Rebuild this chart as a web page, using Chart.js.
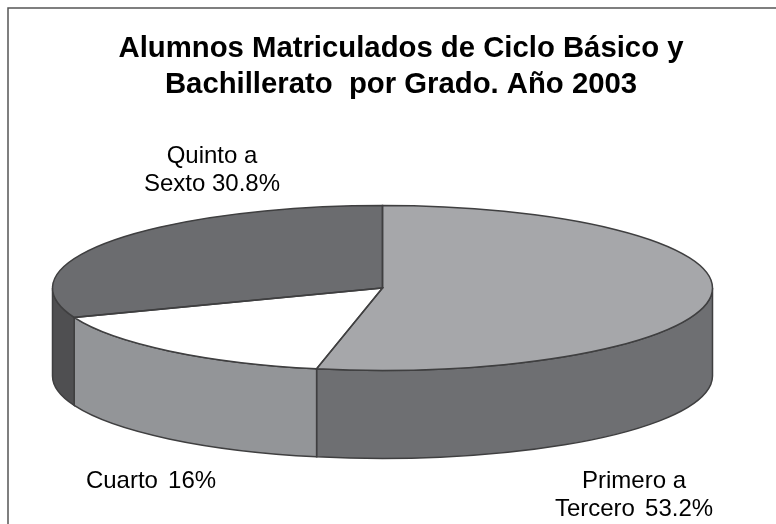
<!DOCTYPE html>
<html>
<head>
<meta charset="utf-8">
<style>
  html, body { margin: 0; padding: 0; background: #fff; }
  canvas { display: block; }
</style>
<script src="https://cdn.jsdelivr.net/npm/chart.js@4/dist/chart.umd.min.js"></script>
</head>
<body>
<canvas id="chart" width="776" height="524"></canvas>
<script>
const titleLines = ['Alumnos Matriculados de Ciclo Básico y', 'Bachillerato  por Grado. Año 2003'];
const categories = ['Primero a Tercero', 'Cuarto', 'Quinto a Sexto'];
const values = [53.2, 16, 30.8];
const labelLines = [['Primero a', 'Tercero'], ['Cuarto'], ['Quinto a', 'Sexto']];

const topColors = ['#a6a7aa', '#ffffff', '#6b6c6f'];
const wallColors = ['#6e6f72', '#939598', '#4f4f51'];
const edgeColor = '#3f3f40';

// where the flattened pie ends up on the page
const disc = { cx: 382.5, cy: 288, rx: 330, ry: 82.5, depth: 88 };
// centre x and first baseline of each slice label
const labelAnchors = [[634, 488], [151, 488], [212, 163]];
// the source sets two of the labels with a wider word gap
const labelGaps = ['3.5px', '3.5px', '0px'];

function edgePath(ctx, from, to) {
  ctx.beginPath();
  ctx.moveTo(disc.cx, disc.cy);
  ctx.ellipse(disc.cx, disc.cy, disc.rx, disc.ry, 0, from, to);
  ctx.closePath();
}

const tiltedPie = {
  id: 'tiltedPie',
  beforeDraw(chart) {
    // page frame, open on the right and at the bottom
    const ctx = chart.ctx;
    ctx.save();
    ctx.strokeStyle = '#555';
    ctx.lineWidth = 1.5;
    ctx.beginPath();
    ctx.moveTo(8, chart.height);
    ctx.lineTo(8, 8);
    ctx.lineTo(chart.width, 8);
    ctx.stroke();
    ctx.restore();
  },
  beforeDatasetsDraw(chart) {
    const ctx = chart.ctx;
    const arcs = chart.getDatasetMeta(0).data;

    // outer wall, only the front half of the rim can be seen
    ctx.save();
    ctx.strokeStyle = edgeColor;
    ctx.lineWidth = 1.5;
    arcs.forEach((arc, i) => {
      const from = Math.max(arc.startAngle, 0);
      const to = Math.min(arc.endAngle, Math.PI);
      if (to <= from) return;
      ctx.beginPath();
      ctx.ellipse(disc.cx, disc.cy, disc.rx, disc.ry, 0, from, to);
      ctx.ellipse(disc.cx, disc.cy + disc.depth, disc.rx, disc.ry, 0, to, from, true);
      ctx.closePath();
      ctx.fillStyle = wallColors[i];
      ctx.fill();
      ctx.stroke();
    });
    ctx.restore();

    // squash the real pie into the top face
    const first = arcs[0];
    ctx.save();
    ctx.translate(disc.cx, disc.cy);
    ctx.scale(disc.rx / first.outerRadius, disc.ry / first.outerRadius);
    ctx.translate(-first.x, -first.y);
  },
  afterDatasetsDraw(chart) {
    const ctx = chart.ctx;
    ctx.restore();

    ctx.save();
    ctx.strokeStyle = edgeColor;
    ctx.lineWidth = 1.5;
    chart.getDatasetMeta(0).data.forEach((arc) => {
      edgePath(ctx, arc.startAngle, arc.endAngle);
      ctx.stroke();
    });

    ctx.fillStyle = '#000';
    ctx.font = '24px "Liberation Sans"';
    ctx.textAlign = 'center';
    ctx.textBaseline = 'alphabetic';
    labelLines.forEach((lines, i) => {
      lines.forEach((line, n) => {
        const last = n === lines.length - 1;
        const text = last ? `${line} ${values[i]}%` : line;
        ctx.wordSpacing = last ? labelGaps[i] : '0px';
        ctx.fillText(text, labelAnchors[i][0], labelAnchors[i][1] + n * 28);
      });
    });
    ctx.restore();
  },
};

new Chart(document.getElementById('chart'), {
  type: 'pie',
  data: {
    labels: categories,
    datasets: [
      {
        data: values,
        backgroundColor: topColors,
        borderWidth: 0,
        clip: false,
      },
    ],
  },
  options: {
    responsive: false,
    animation: false,
    layout: { padding: { left: 26 } },
    plugins: {
      legend: { display: false },
      tooltip: { enabled: false },
      title: {
        display: true,
        text: titleLines,
        color: '#000',
        font: { family: '"Liberation Sans"', size: 29.3, weight: 'bold', lineHeight: 1.22 },
        padding: { top: 31, bottom: 10 },
      },
    },
  },
  plugins: [tiltedPie],
});
</script>
</body>
</html>
